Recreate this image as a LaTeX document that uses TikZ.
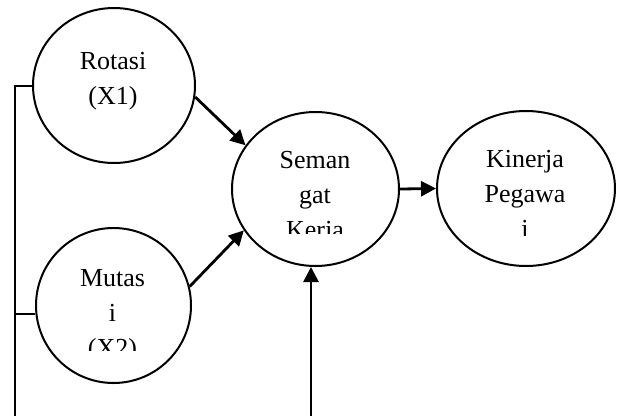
\documentclass[tikz,border=0pt]{standalone}
\usepackage{fontspec}
\setmainfont{Liberation Serif}
\usetikzlibrary{arrows.meta,shapes.geometric}
\begin{document}
\begin{tikzpicture}[x=1pt,y=-1pt,
	var/.style={draw,ellipse,line width=2pt,inner sep=0pt},
	lbl/.style={align=center,inner sep=0pt,anchor=base,font=\fontsize{26}{35}\selectfont},
	arr/.style={line width=2.8pt,-{Triangle[length=15pt,width=15pt]}}]
	\useasboundingbox (0,0) rectangle (622,416);
	% variabel
	\node[var,minimum width=162pt,minimum height=155pt] (rotasi) at (114,85.5) {};
	\node[var,minimum width=155pt,minimum height=155pt] (mutasi) at (113.5,305.5) {};
	\node[var,minimum width=167pt,minimum height=154pt] (semangat) at (315.5,189) {};
	\node[var,minimum width=178pt,minimum height=155pt] (kinerja) at (526,188.5) {};
	% teks, terpotong seperti kotak teks (base = baris terakhir)
	\node[lbl] (trotasi) at (113,104) {Rotasi\\(X1)};
	\begin{scope}
		\clip (36,228) rectangle (191,350);
		\node[lbl] (tmutasi) at (112.5,356) {Mutas\\i\\(X2)};
	\end{scope}
	\begin{scope}
		\clip (232,112) rectangle (399,233);
		\node[lbl] (tsemangat) at (315,238) {Seman\\gat\\Kerja};
	\end{scope}
	\begin{scope}
		\clip (437,111) rectangle (615,235);
		\node[lbl] (tkinerja) at (525,237) {Kinerja\\Pegawa\\i};
	\end{scope}
	% panah
	\draw[arr] (rotasi.-8) -- (semangat.148);
	\draw[arr] (mutasi.14) -- (semangat.210);
	\draw[arr] (semangat.east) -- (kinerja.west);
	\coordinate (bawah) at (311,416);
	\draw[arr] (bawah) -- (bawah |- semangat.south);
	% garis kiri
	\coordinate (kiri) at (15,416);
	\draw[line width=2pt] (rotasi.west) -| (kiri);
	\draw[line width=2pt] (mutasi.186) -- (mutasi.186 -| kiri);
\end{tikzpicture}
\end{document}
